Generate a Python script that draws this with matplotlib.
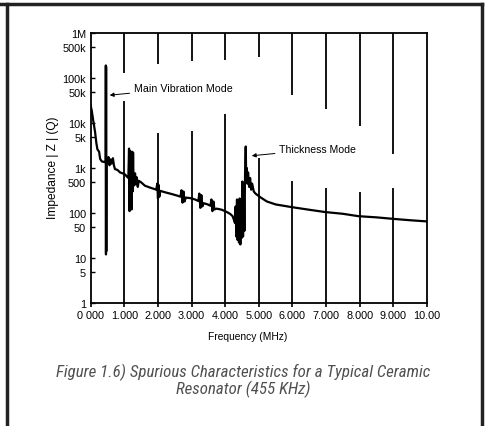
import matplotlib
matplotlib.use("Agg")
import matplotlib.pyplot as plt
from matplotlib.lines import Line2D
from matplotlib import font_manager

# ---------------- data ----------------
freq_mhz = [0.00, 0.03, 0.07, 0.13, 0.17, 0.20, 0.25, 0.28, 0.33, 0.42,
            0.448, 0.450, 0.454, 0.458, 0.462, 0.466,
            0.50, 0.53, 0.56, 0.59, 0.62, 0.66, 0.69, 0.72, 0.80, 0.87,
            0.95, 1.02, 1.08, 1.12,
            1.14, 1.155, 1.17, 1.185, 1.20, 1.215, 1.23, 1.245, 1.26, 1.275,
            1.29, 1.32, 1.34, 1.37, 1.40, 1.43, 1.50, 1.61, 1.75, 1.90,
            1.95, 1.98, 2.00, 2.02, 2.04, 2.07, 2.2, 2.4, 2.6, 2.67,
            2.70, 2.73, 2.76, 2.79, 2.83, 2.95, 3.1, 3.2, 3.23, 3.26,
            3.29, 3.32, 3.36, 3.48, 3.56, 3.59, 3.62, 3.65, 3.68, 3.75,
            3.9, 4.05, 4.15, 4.22, 4.26, 4.29,
            4.31, 4.33, 4.35, 4.37, 4.39, 4.41, 4.43, 4.45, 4.47, 4.49,
            4.51, 4.53, 4.55, 4.57, 4.59, 4.61, 4.625, 4.64, 4.66, 4.68,
            4.71, 4.74, 4.77, 4.80, 4.85, 4.90, 5.04, 5.24, 5.5, 5.98,
            6.5, 6.97, 7.5, 7.96, 8.5, 9.0, 9.5, 10.0]
impedance = [24000, 19000, 12000, 6300, 3500, 2600, 2300, 1600, 1400, 1350,
             1400, 190000, 12, 180000, 14, 1500,
             1300, 1750, 1150, 1550, 1250, 1650, 1150, 950, 900, 800,
             760, 720, 640, 600,
             2700, 110, 2400, 150, 1500, 120, 2300, 300, 2200, 400,
             560, 760, 430, 620, 380, 520, 480, 405, 370, 340,
             330, 450, 210, 420, 230, 310, 290, 265, 240, 230,
             320, 170, 300, 180, 220, 215, 200, 185, 270, 130,
             250, 140, 165, 155, 145, 200, 110, 180, 120, 125,
             118, 105, 95, 85, 70, 60,
             140, 30, 200, 25, 180, 22, 210, 20, 190, 28,
             500, 30, 450, 40, 700, 3000, 500, 1000, 450, 800,
             380, 600, 330, 450, 300, 270, 225, 180, 155, 135,
             118, 105, 96, 85, 80, 74, 69, 65]

x_ticks = [0, 1, 2, 3, 4, 5, 6, 7, 8, 9, 10]
x_tick_labels = ["0 000", "1.000", "2.000", "3.000", "4.000", "5.000",
                 "6.000", "7.000", "8.000", "9.000", "10.00"]
y_ticks = [1, 5, 10, 50, 100, 500, 1e3, 5e3, 1e4, 5e4, 1e5, 5e5, 1e6]
y_tick_labels = ["1", "5", "10", "50", "100", "500", "1k", "5k", "10k",
                 "50k", "100k", "500k", "1M"]

# broken vertical grid lines: upper part ends / lower part starts
grid_x = [1, 2, 3, 4, 5, 6, 7, 8, 9]
grid_upper_end = [1.3e5, 2.1e5, 2.4e5, 2.5e5, 3.0e5, 4.2e4, 2.1e4, 8.5e3, 2.1e3]
grid_lower_start = [3.1e4, 6.0e3, 6.6e3, 1.6e4, 1.7e3, 520, 360, 300, 360]

# ---------------- fonts ----------------
entries = font_manager.fontManager.ttflist
avail = {f.name for f in entries}
base_font = "Liberation Sans" if "Liberation Sans" in avail else "DejaVu Sans"
cap_family, cap_size, cap_stretch = None, 11.4, "normal"
for name in ["Liberation Sans Narrow", "Roboto Condensed", "Open Sans Condensed",
             "DejaVu Sans Condensed", "Noto Sans Condensed"]:
    if name in avail:
        cap_family, cap_size = name, 12.2
        break
if cap_family is None:
    cond = [f for f in entries if f.name == "DejaVu Sans"
            and str(f.stretch) in ("condensed", "semi-condensed", "75", "87.5")]
    if cond:
        cap_family, cap_size, cap_stretch = "DejaVu Sans", 11.0, "condensed"
if cap_family is None:
    cap_family = "Roboto" if "Roboto" in avail else base_font
plt.rcParams["font.family"] = [base_font, "DejaVu Sans"]

# ---------------- figure ----------------
fig = plt.figure(figsize=(4.87, 4.27), dpi=100)
W, H = 487, 427
ax = fig.add_axes([90.7 / W, 1 - 304 / H, 336.3 / W, 270 / H])

ax.set_yscale("log")
ax.set_xlim(0, 10)
ax.set_ylim(1, 1e6)

ax.vlines(grid_x, grid_upper_end, [1e6] * len(grid_x), color="black", lw=1.3, zorder=1)
ax.vlines(grid_x, [1] * len(grid_x), grid_lower_start, color="black", lw=1.3, zorder=1)

ax.plot(freq_mhz, impedance, color="black", lw=1.6, zorder=3)

ax.set_xticks(x_ticks)
ax.set_xticklabels(x_tick_labels)
ax.set_yticks(y_ticks)
ax.set_yticklabels(y_tick_labels)
ax.minorticks_off()
ax.tick_params(axis="x", direction="out", length=3, width=1.2, labelsize=7.8, pad=2,
               colors="black")
ax.tick_params(axis="y", direction="in", length=3, width=1.0, labelsize=7.8, pad=3.5)
for s in ax.spines.values():
    s.set_linewidth(1.3)

ax.annotate("Main Vibration Mode", xy=(0.565, 41500), xytext=(1.28, 60000),
            fontsize=7.7, va="center", ha="left",
            arrowprops=dict(arrowstyle="-|>", color="black", lw=0.7,
                            mutation_scale=6, shrinkA=1, shrinkB=0))
ax.annotate("Thickness Mode", xy=(4.79, 1870), xytext=(5.6, 2600),
            fontsize=7.6, va="center", ha="left",
            arrowprops=dict(arrowstyle="-|>", color="black", lw=0.7,
                            mutation_scale=6, shrinkA=1, shrinkB=0))

fig.text(247.5 / W, 1 - 336.7 / H, "Frequency (MHz)", fontsize=7.4,
         ha="center", va="center")
fig.text(53 / W, 1 - 168 / H, "Impedance | Z | (Q)", fontsize=8.6, rotation=90,
         ha="center", va="center")

cap_kw = dict(fontsize=cap_size, style="italic", weight="normal", color="#505050",
              fontstretch=cap_stretch, ha="center", va="center",
              family=[cap_family, "DejaVu Sans"])
fig.text(243.5 / W, 1 - 372.7 / H,
         "Figure 1.6) Spurious Characteristics for a Typical Ceramic", **cap_kw)
fig.text(243.5 / W, 1 - 389 / H, "Resonator (455 KHz)", **cap_kw)

# outer frame (open at bottom)
frame_kw = dict(color="#222222", lw=2.5, transform=fig.transFigure,
                solid_capstyle="projecting")
fig.add_artist(Line2D([0 / W, 482 / W], [1 - 5 / H, 1 - 5 / H], **frame_kw))
fig.add_artist(Line2D([7 / W, 7 / W], [1 - 5 / H, 0], **frame_kw))
fig.add_artist(Line2D([482 / W, 482 / W], [1 - 5 / H, 0], **frame_kw))

fig.savefig("out.png", dpi=100)
